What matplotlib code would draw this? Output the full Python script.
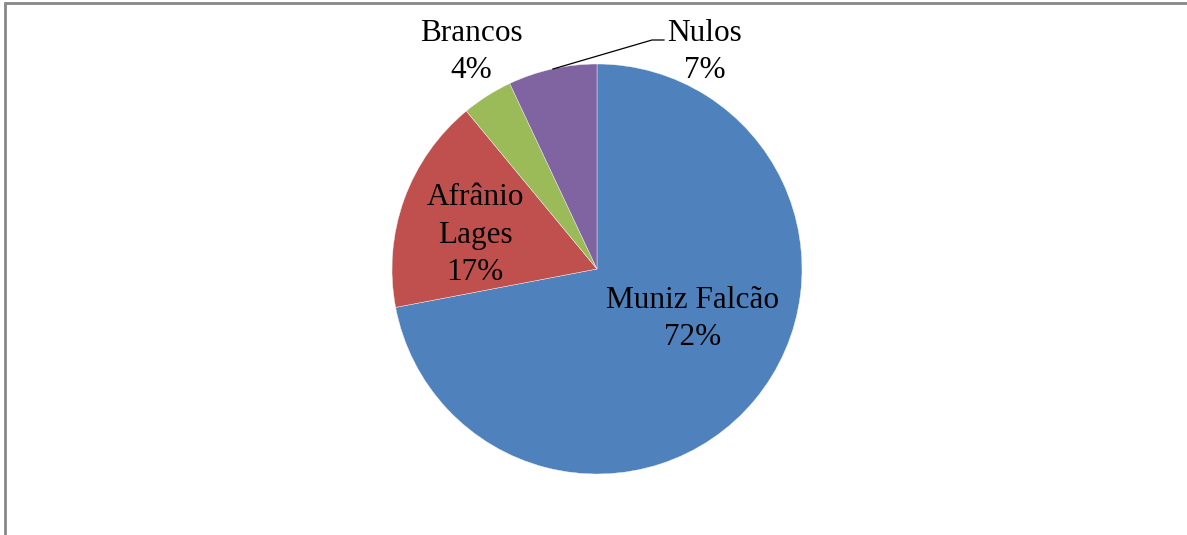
import matplotlib.pyplot as plt
from matplotlib.patches import Rectangle

# Resultado da eleição
candidatos = ["Muniz Falcão", "Afrânio\nLages", "Brancos", "Nulos"]
percentuais = [72, 17, 4, 7]
cores = ["#4F81BD", "#C0504D", "#9BBB59", "#8064A2"]

plt.rcParams['font.family'] = ['Liberation Serif', 'DejaVu Serif']

W, H = 1187, 535
fig = plt.figure(figsize=(W / 100, H / 100), dpi=100)
ax = fig.add_axes([0, 0, 1, 1])

# Pizza começando no topo, sentido horário
cx, cy, r = 597, H - 269, 205
ax.pie(percentuais, colors=cores, startangle=90, counterclock=False,
       center=(cx, cy), radius=r, frame=True,
       wedgeprops=dict(linewidth=0.3, edgecolor="#f4f4f4"))
ax.set_xlim(0, W)
ax.set_ylim(0, H)
ax.set_aspect('equal')
ax.set_axis_off()

# Rótulos (nome + percentual)
pos_rotulos = [(693, H - 319), (475, H - 235), (471, H - 52), (705, H - 52)]
for nome, p, (x, y) in zip(candidatos, percentuais, pos_rotulos):
    ax.text(x, y, f"{nome}\n{p}%", ha='center', va='center',
            fontsize=22.5, linespacing=1.38, color='black')

# Linha de chamada para "Nulos"
ax.plot([553, 652, 664], [H - 69, H - 40, H - 40], color='black', lw=0.9)

# Moldura da área do gráfico
ax.add_patch(Rectangle((4.5, -20), W + 20, H - 2.5 + 20, fill=False,
                       edgecolor='#888888', lw=2.0, clip_on=False))

fig.savefig("out.png", dpi=100)
